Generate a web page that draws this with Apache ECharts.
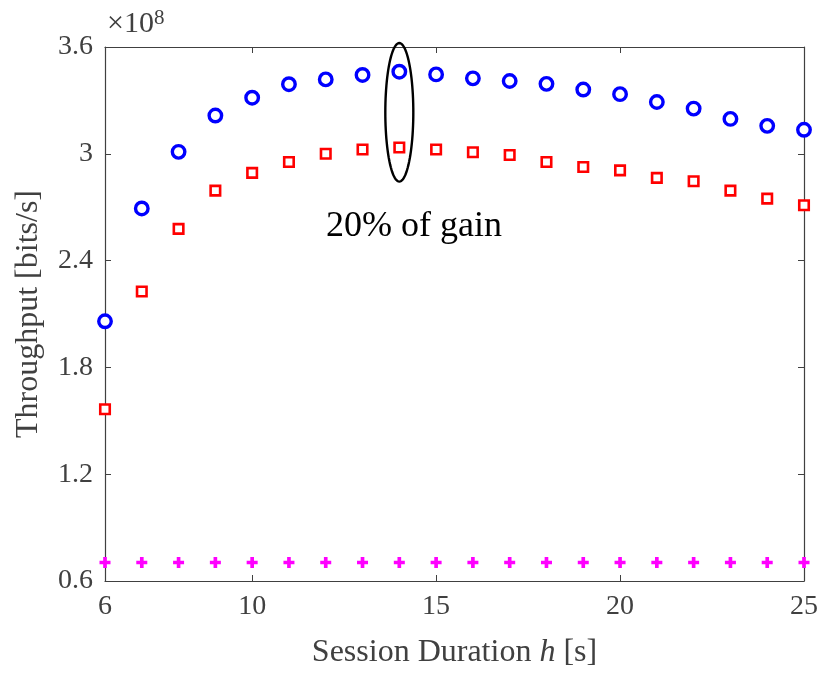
<!DOCTYPE html>
<html>
<head>
<meta charset="utf-8">
<script src="https://cdn.jsdelivr.net/npm/echarts@6/dist/echarts.min.js"></script>
<style>
  html, body { margin: 0; padding: 0; background: #fff; overflow: hidden; }
  #main { width: 821px; height: 674px; }
</style>
</head>
<body>
<div id="main"></div>
<script>
// session duration h [s]
var durations = [6, 7, 8, 9, 10, 11, 12, 13, 14, 15, 16, 17, 18, 19, 20, 21, 22, 23, 24, 25]
// throughput, x 10^8 bits/s
var blueCircles = [2.059, 2.693, 3.011, 3.215, 3.315, 3.391, 3.418, 3.443, 3.461, 3.446,
  3.424, 3.409, 3.393, 3.361, 3.335, 3.291, 3.254, 3.196, 3.157, 3.135]
var redSquares = [1.565, 2.226, 2.578, 2.793, 2.893, 2.954, 3.000, 3.024, 3.035, 3.024,
  3.009, 2.993, 2.954, 2.926, 2.907, 2.865, 2.846, 2.793, 2.748, 2.711]
var magentaPlus = [0.704, 0.704, 0.704, 0.704, 0.704, 0.704, 0.704, 0.704, 0.704, 0.704,
  0.704, 0.704, 0.704, 0.704, 0.704, 0.704, 0.704, 0.704, 0.704, 0.704]
var xTicks = [6, 10, 15, 20, 25]

var font = 'Liberation Serif'
var axisColor = '#404040'

function pairs (ys) {
  return durations.map(function (x, i) { return [x, ys[i]] })
}

var myChart = echarts.init(document.getElementById('main'))

var xBase = {
  type: 'value',
  min: 6,
  max: 25,
  axisLine: { show: true, onZero: false, lineStyle: { color: axisColor, width: 1.2 } },
  axisTick: { show: true, inside: true, length: 6, customValues: xTicks, lineStyle: { color: axisColor } },
  splitLine: { show: false }
}
var yBase = {
  type: 'value',
  min: 0.6,
  max: 3.6,
  interval: 0.6,
  axisLine: { show: true, onZero: false, lineStyle: { color: axisColor, width: 1.2 } },
  axisTick: { show: true, inside: true, length: 6, lineStyle: { color: axisColor } },
  splitLine: { show: false }
}

myChart.setOption({
  animation: false,
  backgroundColor: '#fff',
  grid: { left: 105, top: 47, right: 16, bottom: 87, containLabel: false },
  xAxis: [
    Object.assign({}, xBase, {
      position: 'bottom',
      name: '{n|Session Duration }{i|h}{n| [s]}',
      nameLocation: 'middle',
      nameGap: 56,
      nameTextStyle: {
        rich: {
          n: { fontFamily: font, fontSize: 32, color: '#404040' },
          i: { fontFamily: font, fontSize: 32, fontStyle: 'italic', color: '#404040' }
        }
      },
      axisLabel: {
        customValues: xTicks,
        margin: 12,
        fontFamily: font,
        fontSize: 28,
        color: '#404040'
      }
    }),
    Object.assign({}, xBase, { position: 'top', axisLabel: { show: false, customValues: xTicks } })
  ],
  yAxis: [
    Object.assign({}, yBase, {
      position: 'left',
      name: 'Throughput [bits/s]',
      nameLocation: 'middle',
      nameGap: 60,
      nameTextStyle: { fontFamily: font, fontSize: 32, color: '#404040' },
      axisLabel: {
        margin: 12,
        fontFamily: font,
        fontSize: 28,
        color: '#404040',
        formatter: function (v) { return String(Math.round(v * 10) / 10) }
      }
    }),
    Object.assign({}, yBase, { position: 'right', axisLabel: { show: false } })
  ],
  series: [
    {
      name: 'blue',
      type: 'scatter',
      data: pairs(blueCircles),
      symbol: 'circle',
      symbolSize: 12.5,
      itemStyle: { color: '#fff', borderColor: '#0000ff', borderWidth: 3.4, opacity: 1 },
      z: 3
    },
    {
      name: 'red',
      type: 'scatter',
      data: pairs(redSquares),
      symbol: 'rect',
      symbolSize: 9.5,
      itemStyle: { color: '#fff', borderColor: '#ff0000', borderWidth: 2.6, opacity: 1 },
      z: 3
    },
    {
      name: 'magenta',
      type: 'scatter',
      data: pairs(magentaPlus),
      symbol: 'path://M4,0H8V4H12V8H8V12H4V8H0V4H4Z',
      symbolSize: 11,
      itemStyle: { color: '#ff00ff', opacity: 1 },
      z: 3
    }
  ]
})

// annotation: ellipse around h = 14 and the gain label, placed through the axes
var ellCenter = myChart.convertToPixel({ gridIndex: 0 }, [14, 3.233])
var ellTop = myChart.convertToPixel({ gridIndex: 0 }, [14, 3.622])
var lblPos = myChart.convertToPixel({ gridIndex: 0 }, [14.4, 2.49])
var ellRy = ellCenter[1] - ellTop[1]
var ellRx = 14
var ellPoints = []
for (var k = 0; k < 96; k++) {
  var t = k / 96 * Math.PI * 2
  ellPoints.push([ellCenter[0] + ellRx * Math.cos(t), ellCenter[1] + ellRy * Math.sin(t)])
}
myChart.setOption({
  graphic: [
    {
      type: 'polygon',
      shape: { points: ellPoints },
      style: { fill: 'none', stroke: '#000', lineWidth: 2.4 },
      z: 10
    },
    {
      type: 'text',
      x: lblPos[0],
      y: lblPos[1],
      style: {
        text: '20% of gain',
        fontFamily: font,
        fontSize: 36,
        fill: '#000',
        align: 'center',
        verticalAlign: 'bottom'
      },
      z: 10
    },
    {
      type: 'text',
      left: 107,
      top: 8,
      style: {
        rich: {
          a: { fontFamily: font, fontSize: 30, fill: '#404040' },
          b: { fontFamily: font, fontSize: 21, fill: '#404040', verticalAlign: 'top', padding: [0, 0, 12, 0] }
        },
        text: '{a|×10}{b|8}'
      }
    }
  ]
})
</script>
</body>
</html>
